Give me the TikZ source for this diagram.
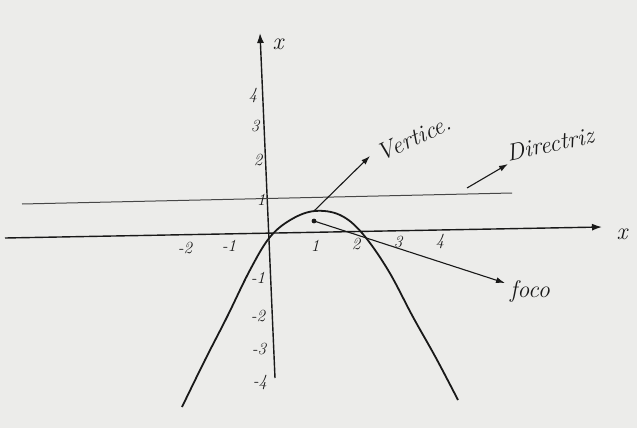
\documentclass[tikz,border=0pt]{standalone}
\usetikzlibrary{arrows.meta}
\definecolor{paper}{RGB}{236,236,234}
\definecolor{ink}{RGB}{25,25,25}
\begin{document}
\begin{tikzpicture}[x=1pt,y=-1pt,
  axis/.style={draw=ink,line width=1.4pt},
  curve/.style={draw=ink,line width=1.8pt},
  thinline/.style={draw=ink!80,line width=1pt},
  pointer/.style={draw=ink,line width=1.1pt,-{Latex[length=9pt,width=6pt]}},
  ticklab/.style={font=\fontsize{17}{19}\selectfont\itshape,text=ink,inner sep=1pt},
  bigtext/.style={font=\fontsize{24}{26}\selectfont\itshape,text=ink,inner sep=1pt}]
\fill[paper] (0,0) rectangle (637,428);
\useasboundingbox (0,0) rectangle (637,428);
% axes
\coordinate (yb) at (275,378);
\coordinate (yt) at (260,33);
\coordinate (xl) at (5,238);
\coordinate (xr) at (602,227);
\draw[axis,-{Latex[length=10pt,width=7pt]}] (yb) -- (yt);
\draw[axis,-{Latex[length=10pt,width=7pt]}] (xl) -- (xr);
\node[bigtext] (xlab) at (622,234) {x};
\node[bigtext] (ylab) at (278,44) {x};
% directrix
\coordinate (dl) at (22,204);
\coordinate (dr) at (512,193);
\draw[thinline] (dl) -- (dr);
% x tick labels
\node[ticklab] (xm2) at (185,248) {-2};
\node[ticklab] (xm1) at (229,246) {-1};
\node[ticklab] (x1) at (315,246) {1};
\node[ticklab] (x2) at (356,244) {2};
\node[ticklab] (x3) at (398,242) {3};
\node[ticklab] (x4) at (440,241) {4};
% y tick labels
\node[ticklab] (y4) at (253,95) {4};
\node[ticklab] (y3) at (255,126) {3};
\node[ticklab] (y2) at (258,160) {2};
\node[ticklab] (y1) at (261,200) {1};
\node[ticklab] (ym1) at (258,278) {-1};
\node[ticklab] (ym2) at (258,316) {-2};
\node[ticklab] (ym3) at (259,349) {-3};
\node[ticklab] (ym4) at (260,382) {-4};
% parabola
\draw[curve] plot[smooth,tension=0.6] coordinates {(182,407) (205,360) (227,317) (250,270) (270,237) (292,219) (315,211) (340,215) (362,233) (388,270) (413,317) (436,358) (458,400)};
% vertex pointer
\coordinate (vx) at (314,211);
\node[bigtext,rotate=25] (vert) at (414,138) {Vertice.};
\coordinate (vtip) at (370,156);
\draw[pointer] (vx) -- (vtip);
% directrix pointer
\coordinate (ds) at (467,188);
\coordinate (dtip) at (508,164);
\draw[pointer] (ds) -- (dtip);
\node[bigtext,rotate=12] (dirlab) at (550,144) {Directriz};
% focus
\fill[ink] (314,221) circle (2.4pt);
\coordinate (fo) at (314,221);
\coordinate (ftip) at (505,283);
\draw[pointer] (fo) -- (ftip);
\node[bigtext] (foco) at (530,291) {foco};
\end{tikzpicture}
\end{document}
